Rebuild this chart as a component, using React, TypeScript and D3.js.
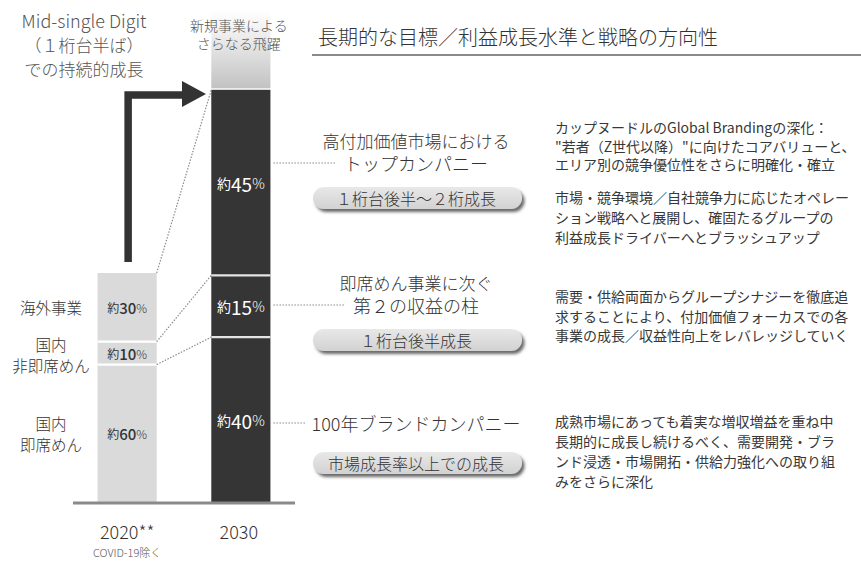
import React from "react";
import * as d3 from "d3";

// --- data ---
const years = ["2020", "2030"];
const yearLabels = ["2020**", "2030"];
const yearNote = "COVID-19除く";
const totals = [100, 180]; // profit index, 2020 = 100
const newBusinessTop = 215; // upside from new business on top of 2030
const shares2020 = [60, 10, 30]; // 国内即席めん, 国内非即席めん, 海外事業
const shares2030 = [40, 15, 45];
const segmentNames = [["国内", "即席めん"], ["国内", "非即席めん"], ["海外事業"]];
const strategyTitles = [
  ["100年ブランドカンパニー"],
  ["即席めん事業に次ぐ", "第２の収益の柱"],
  ["高付加価値市場における", "トップカンパニー"],
];
const growthTargets = ["市場成長率以上での成長", "１桁台後半成長", "１桁台後半～２桁成長"];
const strategyTexts = [
  [["成熟市場にあっても着実な増収増益を重ね中", "長期的に成長し続けるべく、需要開発・ブラ", "ンド浸透・市場開拓・供給力強化への取り組", "みをさらに深化"]],
  [["需要・供給両面からグループシナジーを徹底追", "求することにより、付加価値フォーカスでの各", "事業の成長／収益性向上をレバレッジしていく"]],
  [
    ["カップヌードルのGlobal Brandingの深化：", "\"若者（Z世代以降）\"に向けたコアバリューと、", "エリア別の競争優位性をさらに明確化・確立"],
    ["市場・競争環境／自社競争力に応じたオペレー", "ション戦略へと展開し、確固たるグループの", "利益成長ドライバーへとブラッシュアップ"],
  ],
];
const headline = ["Mid-single Digit", "（１桁台半ば）", "での持続的成長"];
const newBusinessLabel = ["新規事業による", "さらなる飛躍"];
const title = "長期的な目標／利益成長水準と戦略の方向性";

// --- layout (annotation positions) ---
const W = 861;
const H = 561;
const font = "'Noto Sans CJK JP', 'Noto Sans', sans-serif";
const titleY = [423, 305, 163]; // y of the heading line that the connector points at
const textBlockY = [[421], [296], [127, 197]];
const pillY = [463, 340, 198];

export default function App() {
  const x = d3.scaleBand<string>().domain(years).range([68, 300]).paddingInner(0.48).paddingOuter(0.26);
  const y = d3.scaleLinear().domain([0, 100]).range([502, 273]);
  const bw = x.bandwidth();

  const stacks = [shares2020, shares2030].map((shares, i) => {
    let acc = 0;
    return shares.map((s) => {
      const v = (s / 100) * totals[i];
      const seg = { y0: acc, y1: acc + v, share: s };
      acc += v;
      return seg;
    });
  });

  const x20 = x(years[0])!;
  const x30 = x(years[1])!;
  const cx20 = x20 + bw / 2;
  const cx30 = x30 + bw / 2;
  const textCx = 416;
  const gaps = [[20], [19.5], [18.5, 20]];

  const arrowPath = d3.path();
  arrowPath.moveTo(cx20 + 1, y(totals[0]) - 11);
  arrowPath.lineTo(cx20 + 1, 95);
  arrowPath.lineTo(184, 95);

  return (
    <svg width={W} height={H} style={{ position: "absolute", left: 0, top: 0, background: "#fff" }} fontFamily={font} fontWeight={300}>
      <defs>
        <linearGradient id="newbiz" x1="0" y1="0" x2="0" y2="1">
          <stop offset="0%" stopColor="#ffffff" />
          <stop offset="35%" stopColor="#ececec" />
          <stop offset="100%" stopColor="#c2c2c2" />
        </linearGradient>
        <linearGradient id="pill" x1="0" y1="0" x2="0" y2="1">
          <stop offset="0%" stopColor="#e8e8e8" />
          <stop offset="100%" stopColor="#d2d2d2" />
        </linearGradient>
        <filter id="shadow" x="-10%" y="-40%" width="130%" height="200%">
          <feDropShadow dx="2.5" dy="3" stdDeviation="1.4" floodColor="#444" floodOpacity="0.8" />
        </filter>
      </defs>

      {/* title */}
      <text x={318} y={36} fontSize={20} fill="#333" dominantBaseline="central">{title}</text>
      <line x1={312} x2={W} y1={55} y2={55} stroke="#8a8a8a" strokeWidth={2} />

      {/* headline */}
      {headline.map((t, i) => (
        <text key={i} x={84} y={20 + i * 24} fontSize={i === 0 ? 18 : 17} fill="#555" textAnchor="middle" dominantBaseline="central">{t}</text>
      ))}

      {/* new business upside */}
      <rect x={x30} y={y(newBusinessTop)} width={bw} height={y(totals[1]) - y(newBusinessTop) - 1.5} fill="url(#newbiz)" />
      {newBusinessLabel.map((t, i) => (
        <text key={i} x={cx30 - 2} y={25 + i * 18} fontSize={14} fill="#555" textAnchor="middle" dominantBaseline="central">{t}</text>
      ))}

      {/* bars */}
      {stacks.map((segs, i) => (
        <g key={i}>
          {segs.map((s, j) => (
            <rect key={j} x={x(years[i])} y={y(s.y1)} width={bw} height={y(s.y0) - y(s.y1)} fill={i === 0 ? "#dadada" : "#353535"} />
          ))}
          {segs.slice(0, -1).map((s, j) => (
            <line key={"sep" + j} x1={x(years[i])} x2={x(years[i])! + bw} y1={y(s.y1)} y2={y(s.y1)} stroke={i === 0 ? "#fff" : "#e4e4e4"} strokeWidth={2.2} />
          ))}
          {segs.map((s, j) => (
            <text key={"l" + j} x={x(years[i])! + bw / 2} y={(y(s.y0) + y(s.y1)) / 2} textAnchor="middle" dominantBaseline="central" fill={i === 0 ? "#333" : "#fff"}>
              <tspan fontSize={i === 0 ? 12 : 14} fontWeight={400}>約</tspan>
              <tspan fontSize={i === 0 ? 15 : 19} fontWeight={i === 0 ? 500 : 400}>{s.share}</tspan>
              <tspan fontSize={i === 0 ? 12 : 14}>%</tspan>
            </text>
          ))}
        </g>
      ))}

      {/* connectors 2020 -> 2030 */}
      {stacks[0].map((s, j) => (
        <line key={j} x1={x20 + bw} y1={y(s.y1)} x2={x30} y2={y(stacks[1][j].y1)} stroke="#8a8a8a" strokeWidth={1.2} strokeDasharray="1.5 1.5" />
      ))}

      {/* arrow */}
      <path d={arrowPath.toString()} fill="none" stroke="#333" strokeWidth={7.5} />
      <path d="M182,81 L206,94 L182,107 Z" fill="#333" />

      {/* baseline */}
      <line x1={73} x2={295} y1={y(0) + 1} y2={y(0) + 1} stroke="#8a8a8a" strokeWidth={3} />

      {/* segment names */}
      {segmentNames.map((lines, j) => {
        const s = stacks[0][j];
        const mid = (y(s.y0) + y(s.y1)) / 2;
        const off = lines.length === 2 ? (j === 0 ? 0 : 1) : 0;
        return lines.map((t, k) => (
          <text key={j + "-" + k} x={51} y={mid + (k - (lines.length - 1) / 2) * 21 + off} fontSize={15.5} fill="#333" textAnchor="middle" dominantBaseline="central">{t}</text>
        ));
      })}

      {/* x labels */}
      {yearLabels.map((t, i) => (
        <text key={i} x={x(years[i])! + bw / 2 - (i === 1 ? 2 : 0)} y={531} fontSize={18} fill="#333" textAnchor="middle" dominantBaseline="central">{t}</text>
      ))}
      <text x={cx20} y={552} fontSize={11} fill="#555" textAnchor="middle" dominantBaseline="central">{yearNote}</text>

      {/* strategy titles, pills, connectors */}
      {strategyTitles.map((lines, j) => {
        const last = lines[lines.length - 1];
        const lastW = j === 0 ? 210 : j === 1 ? 130 : 147;
        return (
          <g key={j}>
            <line x1={x30 + bw + 3} x2={textCx - lastW / 2 - 6} y1={titleY[j]} y2={titleY[j]} stroke="#8a8a8a" strokeWidth={1.2} strokeDasharray="1.5 1.5" />
            {lines.map((t, k) => (
              <text key={k} x={textCx} y={titleY[j] - (lines.length - 1 - k) * 23} fontSize={t === last ? 18 : 17} fill="#333" textAnchor="middle" dominantBaseline="central">{t}</text>
            ))}
            <rect x={313} y={pillY[j] - 11} width={209} height={22} rx={11} fill="url(#pill)" filter="url(#shadow)" />
            <text x={textCx} y={pillY[j]} fontSize={16} fill="#333" textAnchor="middle" dominantBaseline="central">{growthTargets[j]}</text>
          </g>
        );
      })}

      {/* strategy descriptions */}
      {strategyTexts.map((blocks, j) =>
        blocks.map((lines, b) =>
          lines.map((t, k) => (
            <text key={j + "-" + b + "-" + k} x={555} y={textBlockY[j][b] + k * gaps[j][b]} fontSize={14} fontWeight={400} fill="#383838" dominantBaseline="central">{t}</text>
          ))
        )
      )}
    </svg>
  );
}
